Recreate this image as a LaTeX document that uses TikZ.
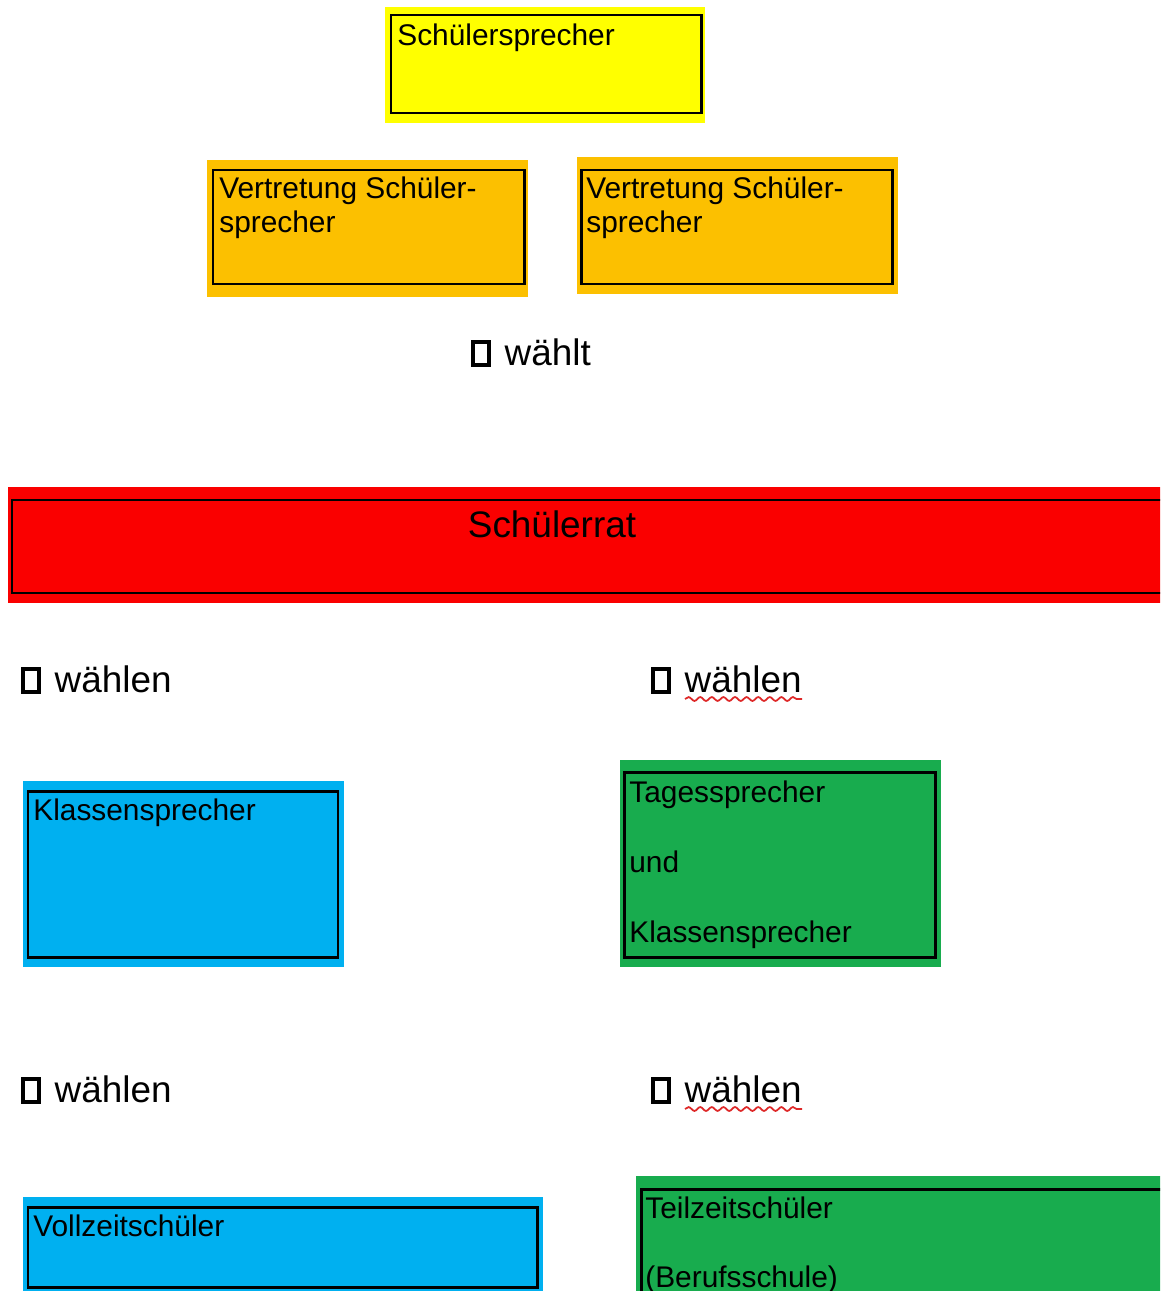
\documentclass[tikz,border=0pt]{standalone}
\usepackage{fontspec}
\setmainfont{Liberation Sans}
\usepackage{tikz}
\usetikzlibrary{decorations.pathmorphing}
\definecolor{cYellow}{RGB}{255,255,0}
\definecolor{cOrange}{RGB}{252,192,0}
\definecolor{cRed}{RGB}{250,0,0}
\definecolor{cBlue}{RGB}{0,176,240}
\definecolor{cGreen}{RGB}{24,172,78}
\definecolor{cSpell}{RGB}{222,40,40}
\newcommand{\kasten}{{\setlength\fboxrule{2pt}\setlength\fboxsep{0pt}\raisebox{1pt}{\fbox{\rule{0pt}{11.2pt}\rule{7pt}{0pt}}}}}
\tikzset{
	innerbox/.style ={draw=black, line width=1.7pt},
	boxtext/.style  ={anchor=base west, inner sep=0pt, font=\fontsize{17}{19.4}\selectfont},
	votetext/.style ={anchor=base west, inner sep=0pt, font=\fontsize{21}{24}\selectfont},
	spell/.style    ={draw=cSpell, line width=1pt, decorate, decoration={snake, amplitude=1.1pt, segment length=6.6pt}},
}
\begin{document}
\begin{tikzpicture}[x=0.02cm, y=-0.02cm]
	\clip (0,0) rectangle (1160,1291);
	\fill[white] (0,0) rectangle (1160,1291);
	% top: Schuelersprecher
	\fill[cYellow] (385,7) rectangle (705,123);
	\draw[innerbox] (391,15) rectangle (701,113);
	\node[boxtext] (sprecher) at (397,46) {Schülersprecher};
	% Vertretung
	\fill[cOrange] (207,160) rectangle (528,297);
	\draw[innerbox] (213,170) rectangle (524,284);
	\node[boxtext] (vertretungA) at (219,198) {Vertretung Schüler-};
	\node[boxtext] (vertretungAb) at (219,232) {sprecher};
	\fill[cOrange] (577,157) rectangle (898,294);
	\draw[innerbox] (581,170) rectangle (892,284);
	\node[boxtext] (vertretungB) at (586,198) {Vertretung Schüler-};
	\node[boxtext] (vertretungBb) at (586,232) {sprecher};
	\node[votetext] (waehlt) at (471,365) {\kasten\hspace{8pt}wählt};
	% Schuelerrat
	\fill[cRed] (8,487) rectangle (1170,603);
	\draw[innerbox] (12,500) rectangle (1170,593);
	\node[votetext, anchor=base] (rat) at (552,537) {Schülerrat};
	% waehlen (1)
	\node[votetext] (waehlenA) at (21,692) {\kasten\hspace{8pt}wählen};
	\node[votetext] (waehlenB) at (651,692) {\kasten\hspace{8pt}wählen};
	\draw[spell] (685,699) -- (802,699);
	% Klassensprecher / Tagessprecher
	\fill[cBlue] (23,781) rectangle (344,967);
	\draw[innerbox] (28,791) rectangle (338,957);
	\node[boxtext] (klassen) at (33,820) {Klassensprecher};
	\fill[cGreen] (620,760) rectangle (941,967);
	\draw[innerbox] (624,772) rectangle (935,957);
	\node[boxtext] (tages) at (629,802) {Tagessprecher};
	\node[boxtext] (tagesund) at (629,872) {und};
	\node[boxtext] (tagesklassen) at (629,942) {Klassensprecher};
	% waehlen (2)
	\node[votetext] (waehlenC) at (21,1102) {\kasten\hspace{8pt}wählen};
	\node[votetext] (waehlenD) at (651,1102) {\kasten\hspace{8pt}wählen};
	\draw[spell] (685,1109) -- (802,1109);
	% Vollzeit / Teilzeit
	\fill[cBlue] (23,1197) rectangle (543,1300);
	\draw[innerbox] (28,1207) rectangle (537,1287);
	\node[boxtext] (vollzeit) at (33,1236) {Vollzeitschüler};
	\fill[cGreen] (636,1176) rectangle (1170,1300);
	\draw[innerbox] (641,1189) rectangle (1175,1310);
	\node[boxtext] (teilzeit) at (645,1218) {Teilzeitschüler};
	\node[boxtext] (teilzeitb) at (645,1287) {(Berufsschule)};
\end{tikzpicture}
\end{document}
